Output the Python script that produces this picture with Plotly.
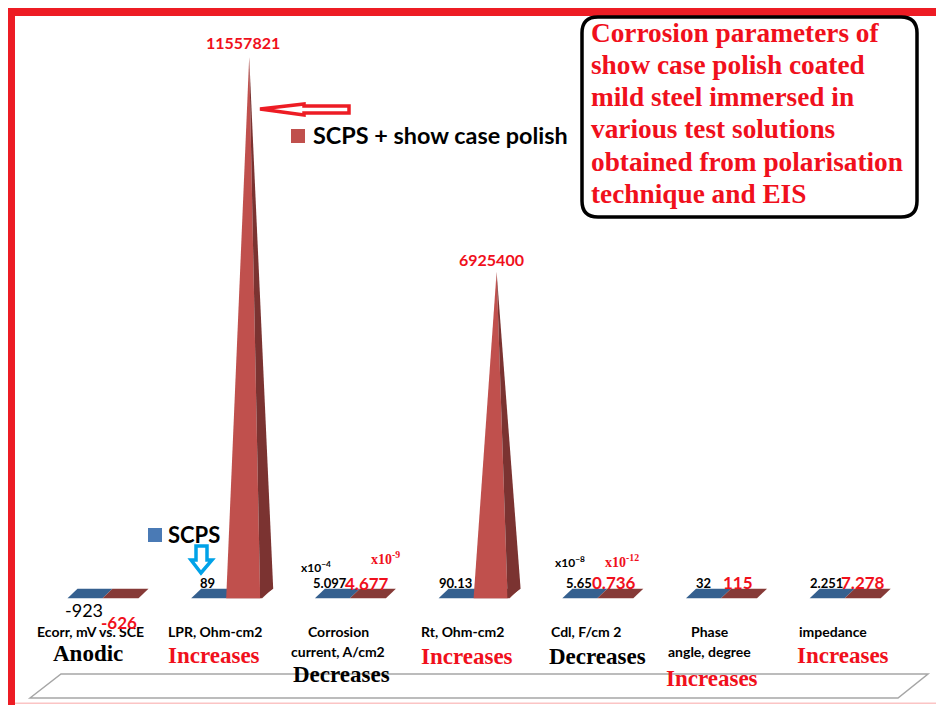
'''
    Corrosion parameters chart: flat 3D-looking bars with two tall spikes.
'''
import plotly.graph_objects as go

# the page body keeps its 8px margin, so the figure starts at (8, 8) of the window
OFFSET = 8
W = 944
H = 705 - OFFSET

categories = ['Ecorr', 'LPR', 'Corrosion current', 'Rt', 'Cdl', 'Phase angle', 'impedance']
scps = [-923, 89, 5.097, 90.13, 5.65, 32, 2.251]
polish = [-626, 11557821, 4.677, 6925400, 0.736, 115, 7.278]

cat_labels = [['Ecorr, mV vs. SCE'], ['LPR, Ohm-cm2'], ['Corrosion', 'current, A/cm2'],
              ['Rt, Ohm-cm2'], ['Cdl, F/cm 2'], ['Phase', 'angle, degree'], ['impedance']]
trends = ['Anodic', 'Increases', 'Decreases', 'Increases', 'Decreases', 'Increases', 'Increases']
title_lines = ['Corrosion parameters of', 'show case polish coated', 'mild steel immersed in',
               'various test solutions', 'obtained from polarisation', 'technique and EIS']

BLUE_TOP = '#35608f'
RED_TOP = '#863a37'
RED_FRONT = '#c0504d'
RED_SIDE = '#7b3331'
RED_TEXT = '#f0101c'
RED_LINE = '#ed1c24'

# scale of the plot area, pixels inside the figure
X_ZERO = 107.5 - OFFSET
X_UNIT = 123.7
Y_ZERO = 593.5 - OFFSET
Y_UNIT = 536.4 / 11557821
DEPTH = 4.7 / Y_UNIT   # half of the bar depth, in value units


def dx(pixels):
    return pixels / X_UNIT


def px(x):
    return (x - OFFSET) / W


def py(y):
    return 1 - (y - OFFSET) / H


def face(fig, xs, ys, color):
    fig.add_trace(go.Scatter(x=xs, y=ys, mode='lines', fill='toself', fillcolor=color,
                             line=dict(width=0), hoverinfo='skip', showlegend=False))


def add_text(fig, x, y, text, size, color='black', family='Lato', bold=True, anchor='center'):
    if bold:
        text = '<b>' + text + '</b>'
    fig.add_annotation(x=px(x), y=py(y), xref='paper', yref='paper', text=text, showarrow=False,
                       xanchor=anchor, yanchor='middle', borderpad=0,
                       font=dict(family=family, size=size, color=color))


def poly_path(points):
    return 'M ' + ' L '.join('{} {}'.format(px(x), py(y)) for x, y in points) + ' Z'


fig = go.Figure()

# the base of each bar is a flat parallelogram, the spike rises from it
for i in range(len(categories)):
    face(fig, [i + dx(-40), i + dx(-30), i + dx(5), i + dx(-5)],
         [-DEPTH, DEPTH, DEPTH, -DEPTH], BLUE_TOP)
    face(fig, [i + dx(-5), i + dx(5), i + dx(41), i + dx(31)],
         [-DEPTH, DEPTH, DEPTH, -DEPTH], RED_TOP)
    if polish[i] > DEPTH:
        face(fig, [i + dx(-5), i + dx(29), i + dx(18)], [-DEPTH, -DEPTH, polish[i]], RED_FRONT)
        face(fig, [i + dx(29), i + dx(42), i + dx(18)], [-DEPTH, DEPTH, polish[i]], RED_SIDE)

shapes = [
    # outer red frame
    dict(type='rect', x0=0, x1=1, y0=py(16), y1=py(8), fillcolor=RED_LINE, line_width=0),
    dict(type='rect', x0=px(8), x1=px(15), y0=0, y1=py(8), fillcolor=RED_LINE, line_width=0),
    dict(type='rect', x0=px(15), x1=1, y0=py(704), y1=py(702.5), fillcolor='#fbc4c4', line_width=0),
    # floor
    dict(type='path', path=poly_path([(30, 698), (61, 674), (928, 674), (898, 698)]),
         line=dict(color='#a6a6a6', width=1.5), layer='below'),
    # legend swatches
    dict(type='rect', x0=px(148), x1=px(162), y0=py(542), y1=py(528), fillcolor='#4a7ab5', line_width=0),
    dict(type='rect', x0=px(291), x1=px(305), y0=py(143), y1=py(129), fillcolor=RED_FRONT, line_width=0),
    # arrows
    dict(type='path', path=poly_path([(260, 109), (304, 104), (304, 106), (349, 106), (349, 113),
                                      (304, 113), (304, 115)]),
         line=dict(color=RED_LINE, width=3.5), fillcolor='white'),
    dict(type='path', path=poly_path([(196, 546), (207, 546), (207, 560), (212, 560), (201, 573),
                                      (191, 560), (196, 560)]),
         line=dict(color='#00a2e8', width=3.5), fillcolor='white'),
    # title box
    dict(type='path', line=dict(color='black', width=3.5), fillcolor='white',
         path='M {} {} L {} {} Q {} {} {} {} L {} {} Q {} {} {} {} L {} {} Q {} {} {} {} L {} {} Q {} {} {} {} Z'.format(
             px(598), py(17), px(901), py(17), px(917), py(17), px(917), py(33),
             px(917), py(201), px(917), py(217), px(901), py(217),
             px(598), py(217), px(582), py(217), px(582), py(201),
             px(582), py(33), px(582), py(17), px(598), py(17))),
]
for shape in shapes:
    shape['xref'] = 'paper'
    shape['yref'] = 'paper'

fig.update_layout(
    width=W, height=H, margin=dict(l=0, r=0, t=0, b=0, pad=0),
    paper_bgcolor='white', plot_bgcolor='rgba(0,0,0,0)', showlegend=False, shapes=shapes,
    xaxis=dict(visible=False, range=[-X_ZERO / X_UNIT, (W - X_ZERO) / X_UNIT]),
    yaxis=dict(visible=False, range=[-(H - Y_ZERO) / Y_UNIT, Y_ZERO / Y_UNIT]),
)

for line, y in zip(title_lines, [33, 65, 97, 129, 162, 194]):
    add_text(fig, 590, y, line, 27.3, RED_TEXT, 'Liberation Serif', anchor='left')

add_text(fig, 312, 135, 'SCPS + show case polish', 23.4, anchor='left')
add_text(fig, 194, 534, 'SCPS', 22)

# category names and what happens to them
for pos, labels in zip([90, 214.5, 338, 462.5, 585.5, 709.5, 833], cat_labels):
    for j, label in enumerate(labels):
        add_text(fig, pos, 631 + 20 * j, label, 14)
for pos, y, trend in zip([88, 213.5, 341, 467, 597, 712, 843],
                         [653, 655, 674, 656, 656, 678, 655], trends):
    add_text(fig, pos, y, trend, 23, 'black' if trend in ('Anodic', 'Decreases') else RED_TEXT,
             'Liberation Serif')

# value labels
add_text(fig, 84, 610, str(scps[0]), 18, bold=False)
for pos, value in zip([207, 330, 455, 579, 703, 826], scps[1:]):
    add_text(fig, pos, 583, str(value), 13)
for pos, y, value in zip([119, 243, 367, 491, 614, 738, 863],
                         [622, 43, 583, 259, 582, 582, 582], polish):
    add_text(fig, pos, y, str(value), 16 if value > 1000 else 17, RED_TEXT)

add_text(fig, 316, 567, 'x10<sup>−4</sup>', 12)
add_text(fig, 570, 562, 'x10<sup>−8</sup>', 12)
add_text(fig, 385, 558, 'x10<sup>-9</sup>', 14, RED_TEXT, 'Liberation Serif')
add_text(fig, 622, 561, 'x10<sup>-12</sup>', 14, RED_TEXT, 'Liberation Serif')

fig.write_html("out.html")
